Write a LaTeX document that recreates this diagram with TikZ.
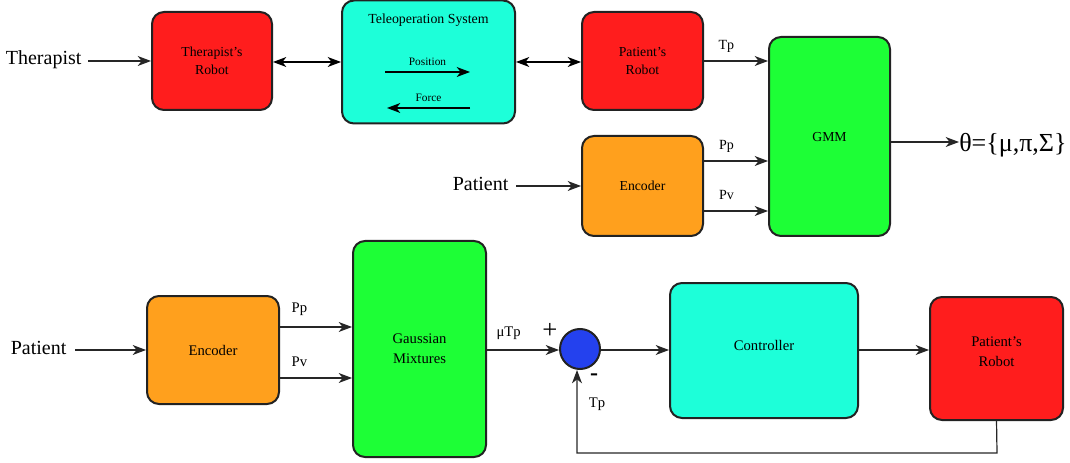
\documentclass[tikz,border=0pt]{standalone}
\usepackage{fontspec}
\setmainfont{Liberation Serif}
\usetikzlibrary{arrows.meta}
\definecolor{robotred}{HTML}{FF1D1D}
\definecolor{teleocyan}{HTML}{1DFFD9}
\definecolor{gmmgreen}{HTML}{1DFF36}
\definecolor{encorange}{HTML}{FFA01D}
\definecolor{sumblue}{HTML}{2441EE}
\definecolor{edge}{HTML}{222222}
\tikzset{
  x=0.75pt, y=-0.75pt,
  block/.style n args={3}{draw=edge, line width=1.5pt, rounded corners=9pt,
    fill=#1, minimum width={#2*0.75pt}, minimum height={#3*0.75pt},
    inner sep=0pt, align=center, font=\fontsize{10.3}{13.5}\selectfont},
  lower/.style={font=\fontsize{11}{15}\selectfont},
  tip/.tip={Stealth[length=10pt,width=7.5pt,inset=3pt]},
  flow/.style={-tip, line width=0.9pt, draw=black!85},
  twoway/.style={tip-tip, line width=0.9pt},
  biglabel/.style={font=\fontsize{15}{17}\selectfont, inner sep=1pt},
  siglabel/.style={font=\fontsize{10.5}{11}\selectfont, inner sep=0pt},
  tinylabel/.style={font=\fontsize{8.5}{9}\selectfont, inner sep=0pt},
}
\begin{document}
\begin{tikzpicture}
\useasboundingbox (0,0) rectangle (1070,463);

% ---------- learning stage ----------
\node[biglabel, anchor=east] (therapist) at (83,60) {Therapist};
\node[block={robotred}{120}{98}] (trobot) at (212,61) {Therapist's\\Robot};
\node[block={teleocyan}{173}{123}] (teleop) at (428.5,62) {};
\node[font=\fontsize{10.4}{12}\selectfont] (teletitle) at (428.5,20) {Teleoperation System};
\coordinate (posA) at (385,72);
\coordinate (posB) at (470,72);
\coordinate (forA) at (470,108);
\coordinate (forB) at (387,108);
\draw[flow, draw=black] (posA) -- (posB) node[tinylabel, midway, above=4pt] (poslbl) {Position};
\draw[flow, draw=black] (forA) -- (forB) node[tinylabel, midway, above=4pt] (forlbl) {Force};
\node[block={robotred}{121}{98}] (probot) at (642.5,61) {Patient's\\Robot};
\node[block={gmmgreen}{121}{199}] (gmm) at (829.5,136.5) {};
\node[font=\fontsize{10.3}{12}\selectfont] (gmmtext) at (829.5,137) {GMM};
\node[block={encorange}{121}{100}] (enc1) at (642.5,186) {Encoder};
\node[biglabel, anchor=east] (patient1) at (510,184) {Patient};
\node[font=\fontsize{19.5}{21}\selectfont, anchor=west, inner sep=0pt] (theta) at (959,145) {θ=\{μ,π,Σ\}};

\draw[flow] (therapist.east) ++(5,1) coordinate (thA) -- (trobot.west |- thA);
\draw[twoway] (trobot.east |- 0,62) -- (teleop.west |- 0,62);
\draw[twoway] (teleop.east |- 0,62) -- (probot.west |- 0,62);
\draw[flow] (probot.east |- 0,61) -- (gmm.west |- 0,61) node[siglabel, pos=0.35, above=6pt] (tplbl) {Tp};
\draw[flow] (enc1.east |- 0,161) -- (gmm.west |- 0,161) node[siglabel, pos=0.35, above=6pt] (pplbl1) {Pp};
\draw[flow] (enc1.east |- 0,211) -- (gmm.west |- 0,211) node[siglabel, pos=0.35, above=8pt] (pvlbl1) {Pv};
\draw[flow] (gmm.east |- 0,142) -- (theta.west |- 0,142);
\draw[flow] (patient1.east |- 0,186) ++(6,0) coordinate (p1A) -- (enc1.west |- p1A);

% ---------- reproduction stage ----------
\node[biglabel, anchor=east] (patient2) at (68,348) {Patient};
\node[block={encorange}{132}{108}, lower] (enc2) at (213,350) {Encoder};
\node[block={gmmgreen}{133}{216}, lower] (gm) at (419.5,349) {Gaussian\\Mixtures};
\node[circle, draw=edge, line width=1.5pt, fill=sumblue, minimum size={40*0.75pt}, inner sep=0pt] (sum) at (580,349) {};
\node[font=\fontsize{20}{20}\selectfont, inner sep=0pt] (plus) at (550,331) {+};
\node[font=\fontsize{18}{18}\selectfont\bfseries, inner sep=0pt] (minus) at (594,377) {-};
\node[block={teleocyan}{188}{135}] (ctrl) at (764,350.5) {};
\node[font=\fontsize{11}{12}\selectfont] (ctrltext) at (764,345) {Controller};
\node[block={robotred}{133}{123}] (probot2) at (996.5,358.5) {};
\node[align=center, lower] (pr2text) at (996.5,352) {Patient's\\Robot};
\coordinate (fbA) at (997,453);
\coordinate (fbB) at (577,453);

\draw[flow] (patient2.east) ++(7,2) coordinate (p2A) -- (enc2.west |- p2A);
\draw[flow] (enc2.east |- 0,327) -- (gm.west |- 0,327) node[siglabel, font=\fontsize{11}{12}\selectfont, pos=0.27, above=8pt] (pplbl2) {Pp};
\draw[flow] (enc2.east |- 0,378) -- (gm.west |- 0,378) node[siglabel, font=\fontsize{11}{12}\selectfont, pos=0.27, above=8pt] (pvlbl2) {Pv};
\draw[flow] (gm.east |- 0,350) -- (sum.west |- 0,350) node[siglabel, font=\fontsize{11}{12}\selectfont, pos=0.3, above=7pt] (mulbl) {μTp};
\draw[flow] (sum.east |- 0,350) -- (ctrl.west |- 0,350);
\draw[flow] (ctrl.east |- 0,350) -- (probot2.west |- 0,350);
\draw[flow] (probot2.south |- 0,420) -- (fbA) -- (fbB) -- (sum.south -| fbB);
\node[siglabel, font=\fontsize{11}{12}\selectfont] (tplbl2) at (597,404) {Tp};
\end{tikzpicture}
\end{document}
